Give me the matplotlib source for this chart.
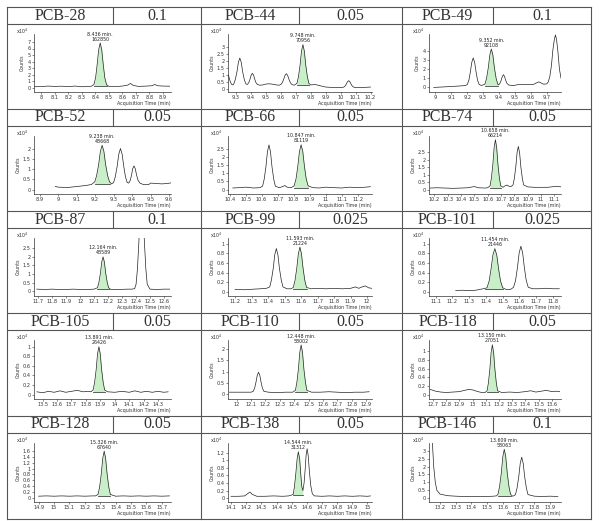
import numpy as np
import matplotlib.pyplot as plt
from matplotlib.lines import Line2D
from matplotlib.ticker import MultipleLocator, FuncFormatter

# header cells
names = ['PCB-28', 'PCB-44', 'PCB-49', 'PCB-52', 'PCB-66', 'PCB-74', 'PCB-87', 'PCB-99',
         'PCB-101', 'PCB-105', 'PCB-110', 'PCB-118', 'PCB-128', 'PCB-138', 'PCB-146']
concs = ['0.1', '0.05', '0.1', '0.05', '0.05', '0.05', '0.1', '0.025',
         '0.025', '0.05', '0.05', '0.05', '0.05', '0.05', '0.1']

# peak labels (retention time / area)
rt_labels = ['8.436 min.', '9.748 min.', '9.352 min.', '9.238 min.', '10.847 min.', '10.658 min.',
             '12.164 min.', '11.593 min.', '11.454 min.', '13.891 min.', '12.448 min.', '13.150 min.',
             '15.326 min.', '14.544 min.', '13.609 min.']
areas = ['162850', '70956', '92108', '48668', '81119', '66214', '48589', '21224',
         '21446', '26426', '58002', '27051', '67640', '31312', '58063']

# chromatogram traces, time (min) / counts (x10^4)
t28 = [7.95, 8.00, 8.05, 8.10, 8.15, 8.20, 8.25, 8.30, 8.35, 8.37, 8.389, 8.402, 8.413, 8.4245, 8.436,
       8.4475, 8.459, 8.470, 8.483, 8.50, 8.55, 8.60, 8.64, 8.66, 8.68, 8.72, 8.78, 8.82, 8.84, 8.86, 8.90, 8.95]
c28 = [0.20, 0.22, 0.30, 0.25, 0.28, 0.22, 0.30, 0.20, 0.22, 0.28, 0.51, 1.57, 3.48, 5.79, 6.85,
       5.79, 3.48, 1.57, 0.51, 0.25, 0.22, 0.30, 0.45, 0.70, 0.40, 0.25, 0.30, 0.35, 0.55, 0.35, 0.30, 0.28]

t44 = [9.25, 9.26, 9.27, 9.28, 9.286, 9.296, 9.307, 9.3165, 9.326, 9.3355, 9.345, 9.356, 9.366,
       9.376, 9.386, 9.394, 9.402, 9.41, 9.418, 9.426, 9.434, 9.444, 9.46, 9.48, 9.50, 9.52, 9.54,
       9.57, 9.59, 9.600, 9.610, 9.619, 9.628, 9.637, 9.646, 9.655, 9.664, 9.674, 9.69, 9.708, 9.718,
       9.729, 9.7385, 9.748, 9.7575, 9.767, 9.778, 9.788, 9.80, 9.83, 9.86, 9.90, 9.95, 10.0, 10.02,
       10.03, 10.038, 10.046, 10.054, 10.062, 10.07, 10.078, 10.088, 10.10, 10.15, 10.20]
c44 = [1.00, 0.60, 0.35, 0.30, 0.38, 0.68, 1.23, 1.90, 2.20, 1.90, 1.23, 0.68, 0.38,
       0.33, 0.46, 0.70, 0.99, 1.12, 0.99, 0.70, 0.46, 0.33, 0.28, 0.30, 0.36, 0.38, 0.36,
       0.30, 0.28, 0.33, 0.46, 0.69, 0.97, 1.10, 0.97, 0.69, 0.46, 0.33, 0.28, 0.41, 0.87,
       1.70, 2.69, 3.15, 2.69, 1.70, 0.87, 0.41, 0.30, 0.33, 0.25, 0.15, 0.12, 0.12, 0.14,
       0.22, 0.36, 0.52, 0.60, 0.52, 0.36, 0.22, 0.14, 0.12, 0.12, 0.15]

t49 = [8.99, 9.05, 9.10, 9.15, 9.19, 9.201, 9.211, 9.220, 9.229, 9.238, 9.247, 9.256, 9.265, 9.275,
       9.29, 9.312, 9.322, 9.333, 9.3425, 9.352, 9.3615, 9.371, 9.382, 9.392, 9.398, 9.406, 9.414,
       9.421, 9.428, 9.435, 9.442, 9.450, 9.462, 9.49, 9.52, 9.55, 9.58, 9.61, 9.62, 9.635, 9.65,
       9.665, 9.68, 9.70, 9.71, 9.72, 9.73, 9.7385, 9.748, 9.755, 9.762, 9.77, 9.78, 9.79]
c49 = [0.00, 0.05, 0.10, 0.15, 0.20, 0.32, 0.80, 1.67, 2.72, 3.20, 2.72, 1.67, 0.80, 0.32,
       0.20, 0.36, 0.99, 2.15, 3.53, 4.17, 3.53, 2.15, 0.99, 0.36, 0.28, 0.44, 0.78,
       1.19, 1.38, 1.19, 0.78, 0.44, 0.25, 0.20, 0.30, 0.32, 0.30, 0.30, 0.35, 0.48, 0.60,
       0.48, 0.35, 0.38, 0.60, 1.20, 2.40, 4.00, 5.20, 5.70, 5.20, 4.00, 2.00, 1.00]

t52 = [8.985, 9.00, 9.05, 9.10, 9.15, 9.18, 9.198, 9.208, 9.219, 9.2285, 9.238, 9.2475, 9.257, 9.268,
       9.278, 9.289, 9.300, 9.309, 9.319, 9.328, 9.337, 9.346, 9.355, 9.364, 9.373, 9.382, 9.390,
       9.397, 9.403, 9.410, 9.417, 9.424, 9.432, 9.442, 9.46, 9.49, 9.50, 9.53, 9.56, 9.59, 9.61]
c52 = [0.15, 0.12, 0.10, 0.15, 0.20, 0.25, 0.38, 0.68, 1.23, 1.89, 2.19, 1.89, 1.23, 0.68,
       0.38, 0.28, 0.35, 0.63, 1.14, 1.75, 2.03, 1.75, 1.14, 0.63, 0.35, 0.32, 0.46,
       0.72, 1.03, 1.17, 1.03, 0.72, 0.46, 0.32, 0.25, 0.25, 0.32, 0.30, 0.28, 0.30, 0.33]

t66 = [10.42, 10.46, 10.50, 10.55, 10.59, 10.606, 10.616, 10.627, 10.6365, 10.646, 10.6555, 10.665,
       10.676, 10.686, 10.71, 10.73, 10.745, 10.76, 10.785, 10.803, 10.815, 10.826, 10.8365, 10.847,
       10.8575, 10.868, 10.879, 10.891, 10.92, 10.96, 11.00, 11.05, 11.10, 11.15, 11.20, 11.25, 11.28]
c66 = [0.10, 0.12, 0.15, 0.10, 0.12, 0.21, 0.63, 1.40, 2.33, 2.75, 2.33, 1.40,
       0.63, 0.21, 0.12, 0.18, 0.25, 0.15, 0.12, 0.23, 0.65, 1.41, 2.34, 2.76,
       2.34, 1.41, 0.65, 0.23, 0.12, 0.10, 0.15, 0.12, 0.10, 0.15, 0.12, 0.15, 0.18]

t74 = [10.17, 10.22, 10.28, 10.34, 10.40, 10.45, 10.50, 10.53, 10.58, 10.60, 10.618, 10.628, 10.639,
       10.6485, 10.658, 10.6675, 10.677, 10.688, 10.698, 10.715, 10.73, 10.745, 10.76, 10.775, 10.79,
       10.80, 10.811, 10.8205, 10.83, 10.8395, 10.849, 10.86, 10.87, 10.90, 10.95, 11.00, 11.05,
       11.10, 11.12, 11.15]
c74 = [0.10, 0.12, 0.10, 0.08, 0.10, 0.12, 0.20, 0.12, 0.10, 0.12, 0.25, 0.77, 1.70,
       2.83, 3.35, 2.83, 1.70, 0.77, 0.25, 0.15, 0.25, 0.30, 0.22, 0.20, 0.31,
       0.74, 1.52, 2.47, 2.90, 2.47, 1.52, 0.74, 0.31, 0.18, 0.15, 0.15, 0.15,
       0.20, 0.22, 0.18]

t87 = [11.69, 11.75, 11.80, 11.85, 11.90, 11.95, 12.00, 12.05, 12.10, 12.124, 12.134, 12.145, 12.1545,
       12.164, 12.1735, 12.183, 12.194, 12.204, 12.22, 12.28, 12.34, 12.37, 12.39, 12.40, 12.41,
       12.421, 12.4305, 12.44, 12.4495, 12.459, 12.47, 12.48, 12.50, 12.55, 12.60, 12.64]
c87 = [0.12, 0.10, 0.12, 0.10, 0.10, 0.12, 0.10, 0.10, 0.12, 0.20, 0.50, 1.04, 1.70,
       2.00, 1.70, 1.04, 0.50, 0.20, 0.10, 0.10, 0.12, 0.12, 0.15, 0.40, 1.30,
       3.00, 5.10, 6.00, 5.10, 3.00, 1.30, 0.40, 0.12, 0.10, 0.12, 0.12]

t99 = [11.20, 11.25, 11.30, 11.35, 11.39, 11.41, 11.42, 11.431, 11.4405, 11.45, 11.4595, 11.469,
       11.48, 11.49, 11.515, 11.54, 11.553, 11.563, 11.574, 11.5835, 11.593, 11.6025, 11.612, 11.623,
       11.633, 11.66, 11.70, 11.75, 11.80, 11.85, 11.90, 11.93, 11.95, 11.97, 11.99, 12.01, 12.03]
c99 = [0.05, 0.04, 0.05, 0.06, 0.07, 0.10, 0.24, 0.48, 0.77, 0.90, 0.77, 0.48,
       0.24, 0.10, 0.06, 0.06, 0.09, 0.23, 0.49, 0.79, 0.93, 0.79, 0.49, 0.23,
       0.09, 0.06, 0.07, 0.06, 0.07, 0.06, 0.07, 0.10, 0.07, 0.10, 0.12, 0.08, 0.07]

t101 = [11.22, 11.26, 11.30, 11.34, 11.37, 11.385, 11.397, 11.407, 11.42, 11.431, 11.4425, 11.454,
        11.4655, 11.477, 11.488, 11.501, 11.525, 11.55, 11.566, 11.578, 11.589, 11.5995, 11.61,
        11.6205, 11.631, 11.642, 11.654, 11.68, 11.72, 11.76, 11.80, 11.84]
c101 = [0.03, 0.04, 0.03, 0.04, 0.06, 0.07, 0.08, 0.09, 0.23, 0.47, 0.77, 0.90,
        0.77, 0.47, 0.23, 0.09, 0.05, 0.06, 0.10, 0.24, 0.50, 0.81, 0.95,
        0.81, 0.50, 0.24, 0.10, 0.07, 0.07, 0.08, 0.07, 0.07]

t105 = [13.46, 13.50, 13.54, 13.58, 13.62, 13.66, 13.70, 13.74, 13.78, 13.82, 13.835, 13.85, 13.86,
        13.871, 13.8805, 13.89, 13.8995, 13.909, 13.92, 13.93, 13.95, 14.00, 14.05, 14.10, 14.14,
        14.18, 14.22, 14.26, 14.30, 14.34, 14.37]
c105 = [0.06, 0.04, 0.07, 0.05, 0.08, 0.05, 0.07, 0.09, 0.06, 0.07, 0.06, 0.10, 0.25,
        0.52, 0.85, 1.00, 0.85, 0.52, 0.25, 0.10, 0.06, 0.05, 0.07, 0.05, 0.08,
        0.05, 0.07, 0.05, 0.07, 0.05, 0.06]

t110 = [11.95, 12.00, 12.05, 12.10, 12.115, 12.125, 12.134, 12.143, 12.152, 12.161, 12.17, 12.179,
        12.189, 12.22, 12.28, 12.34, 12.39, 12.408, 12.418, 12.429, 12.4385, 12.448, 12.4575, 12.467,
        12.478, 12.488, 12.52, 12.58, 12.64, 12.70, 12.76, 12.82, 12.88, 12.92]
c110 = [0.10, 0.10, 0.10, 0.10, 0.14, 0.28, 0.53, 0.84, 0.98, 0.84, 0.53, 0.28,
        0.14, 0.10, 0.08, 0.10, 0.10, 0.18, 0.52, 1.12, 1.85, 2.18, 1.85, 1.12,
        0.52, 0.18, 0.10, 0.10, 0.12, 0.10, 0.08, 0.10, 0.10, 0.12]

t118 = [12.68, 12.72, 12.76, 12.80, 12.85, 12.90, 12.94, 12.97, 13.00, 13.04, 13.07, 13.095, 13.11,
        13.12, 13.131, 13.1405, 13.15, 13.1595, 13.169, 13.18, 13.19, 13.22, 13.28, 13.34, 13.40,
        13.44, 13.48, 13.52, 13.56, 13.60, 13.63, 13.66]
c118 = [0.12, 0.08, 0.06, 0.05, 0.06, 0.07, 0.10, 0.12, 0.11, 0.07, 0.05, 0.05, 0.09,
        0.27, 0.59, 0.97, 1.15, 0.97, 0.59, 0.27, 0.09, 0.05, 0.06, 0.05, 0.07,
        0.09, 0.06, 0.08, 0.10, 0.07, 0.08, 0.07]

t128 = [14.90, 14.95, 15.00, 15.05, 15.10, 15.15, 15.20, 15.25, 15.27, 15.286, 15.296, 15.307, 15.3165,
        15.326, 15.3355, 15.345, 15.356, 15.366, 15.40, 15.45, 15.50, 15.55, 15.60, 15.65, 15.70, 15.75]
c128 = [0.05, 0.06, 0.05, 0.06, 0.05, 0.06, 0.05, 0.06, 0.06, 0.11, 0.36, 0.81, 1.35,
        1.60, 1.35, 0.81, 0.36, 0.11, 0.05, 0.06, 0.05, 0.06, 0.05, 0.06, 0.05, 0.06]

t138 = [14.10, 14.15, 14.19, 14.21, 14.225, 14.24, 14.27, 14.32, 14.38, 14.44, 14.48, 14.497, 14.510,
        14.518, 14.527, 14.536, 14.544, 14.553, 14.560, 14.567, 14.574, 14.582, 14.589, 14.595,
        14.602, 14.609, 14.617, 14.626, 14.636, 14.65, 14.70, 14.75, 14.80, 14.85, 14.90, 14.95,
        15.00, 15.02]
c138 = [0.05, 0.05, 0.06, 0.12, 0.16, 0.10, 0.05, 0.05, 0.06, 0.05, 0.06, 0.08, 0.10,
        0.29, 0.63, 1.03, 1.22, 1.03, 0.63, 0.30, 0.20, 0.40, 0.75, 1.12,
        1.30, 1.12, 0.70, 0.33, 0.12, 0.06, 0.05, 0.06, 0.05, 0.06, 0.05, 0.06,
        0.05, 0.06]

t146 = [13.15, 13.16, 13.17, 13.18, 13.20, 13.25, 13.30, 13.35, 13.40, 13.45, 13.50, 13.54, 13.56,
        13.569, 13.579, 13.59, 13.5995, 13.609, 13.6185, 13.628, 13.639, 13.649, 13.662, 13.671,
        13.68, 13.69, 13.701, 13.7105, 13.72, 13.7295, 13.739, 13.75, 13.76, 13.80, 13.85,
        13.90, 13.95]
c146 = [3.80, 2.00, 1.00, 0.50, 0.25, 0.15, 0.12, 0.10, 0.10, 0.10, 0.10, 0.12, 0.14,
        0.24, 0.72, 1.58, 2.62, 3.10, 2.62, 1.58, 0.72, 0.24, 0.12, 0.15,
        0.22, 0.62, 1.34, 2.20, 2.60, 2.20, 1.34, 0.62, 0.22, 0.12, 0.10,
        0.12, 0.10]

traces = [(t28, c28), (t44, c44), (t49, c49), (t52, c52), (t66, c66), (t74, c74),
          (t87, c87), (t99, c99), (t101, c101), (t105, c105), (t110, c110), (t118, c118),
          (t128, c128), (t138, c138), (t146, c146)]

# integrated (green) peak: start, end, baseline
green = [(8.389, 8.483, 0.25), (9.708, 9.788, 0.30), (9.312, 9.392, 0.20), (9.198, 9.278, 0.28),
         (10.803, 10.891, 0.12), (10.618, 10.698, 0.12), (12.124, 12.204, 0.12), (11.553, 11.633, 0.06),
         (11.397, 11.501, 0.06), (13.85, 13.93, 0.06), (12.408, 12.488, 0.10), (13.11, 13.19, 0.05),
         (15.286, 15.366, 0.05), (14.510, 14.574, 0.08), (13.569, 13.649, 0.12)]

xlims = [(7.946, 8.96), (9.247, 10.21), (8.96, 9.79), (8.87, 9.61), (10.39, 11.29), (10.16, 11.15),
         (11.67, 12.65), (11.157, 12.03), (11.06, 11.85), (13.44, 14.39), (11.94, 12.94), (12.67, 13.67),
         (14.87, 15.76), (14.08, 15.03), (13.13, 13.97)]
ylims = [(-0.6, 8.2), (-0.2, 3.9), (-0.5, 5.8), (-0.22, 2.65), (-0.27, 3.3), (-0.3, 3.6),
         (-0.28, 3.1), (-0.09, 1.12), (-0.08, 1.12), (-0.09, 1.14), (-0.2, 2.4), (-0.1, 1.26),
         (-0.15, 1.88), (-0.1, 1.45), (-0.25, 3.5)]
ytop = [7, 3, 4, 2, 2.5, 2.5, 2.5, 1, 1, 1, 2, 1, 1.6, 1.2, 3]
ystep = [1, 0.5, 1, 0.5, 0.5, 0.5, 0.5, 0.2, 0.2, 0.2, 0.5, 0.2, 0.2, 0.2, 0.5]

W, H = 603, 521
fig = plt.figure(figsize=(W / 100, H / 100), dpi=100)


def fx(p):
    return p / W


def fy(p):
    return 1 - p / H


# table grid
col_x = [7, 201, 402, 591]
split_x = [113, 299, 493]
row_y = [7, 109, 211, 313, 416, 519]
head_h = 17
lk = dict(color='#555555', lw=0.8)

for x in col_x:
    fig.add_artist(Line2D([fx(x)] * 2, [fy(row_y[0]), fy(row_y[-1])], **lk))
for y in row_y:
    fig.add_artist(Line2D([fx(col_x[0]), fx(col_x[-1])], [fy(y)] * 2, **lk))
for r in range(5):
    y0 = row_y[r]
    fig.add_artist(Line2D([fx(col_x[0]), fx(col_x[-1])], [fy(y0 + head_h)] * 2, **lk))
    for c in range(3):
        fig.add_artist(Line2D([fx(split_x[c])] * 2, [fy(y0), fy(y0 + head_h)], **lk))

fmt = FuncFormatter(lambda v, p: f'{round(v, 3):g}')

for i in range(15):
    r, c = divmod(i, 3)
    y0 = row_y[r]
    yc = fy(y0 + head_h / 2)
    fig.text(fx((col_x[c] + split_x[c]) / 2), yc, names[i], ha='center', va='center',
             fontsize=11.5, family='Liberation Serif', color='#333333')
    fig.text(fx((split_x[c] + col_x[c + 1]) / 2), yc, concs[i], ha='center', va='center',
             fontsize=11.5, family='Liberation Serif', color='#333333')

    left = col_x[c] + 27
    right = col_x[c + 1] - 30
    top = y0 + head_h + 10
    bottom = row_y[r + 1] - 17
    ax = fig.add_axes([fx(left), fy(bottom), (right - left) / W, (bottom - top) / H])

    t = np.array(traces[i][0])
    y = np.array(traces[i][1])
    g0, g1, base = green[i]
    m = (t >= g0 - 1e-9) & (t <= g1 + 1e-9)
    ax.fill_between(t[m], y[m], base, color='#c8efc8', lw=0)
    ax.plot([g0, g1], [base, base], color='#444444', lw=0.6)
    ax.plot(t, y, color='#222222', lw=0.5)

    k = np.argmax(np.where(m, y, -1))
    ax.annotate(rt_labels[i] + '\n' + areas[i], xy=(t[k], y[k]), xytext=(0, 1),
                textcoords='offset points', ha='center', va='bottom', fontsize=3.4,
                linespacing=1.0, color='#222222')

    ax.set_xlim(*xlims[i])
    ax.set_ylim(*ylims[i])
    ax.xaxis.set_major_locator(MultipleLocator(0.1))
    ax.xaxis.set_major_formatter(fmt)
    ax.set_yticks(np.arange(0, ytop[i] + ystep[i] / 2, ystep[i]))
    ax.yaxis.set_major_formatter(fmt)
    ax.tick_params(axis='both', length=1.5, width=0.4, pad=1, labelsize=3.6,
                   colors='#333333', direction='out')
    for s in ['top', 'right']:
        ax.spines[s].set_visible(False)
    for s in ['left', 'bottom']:
        ax.spines[s].set_linewidth(0.5)
        ax.spines[s].set_color('#333333')
    ax.set_facecolor('none')

    ax.set_ylabel('Counts', fontsize=3.4, labelpad=1.5, color='#333333')
    ax.text(-0.035, 1.04, r'x10$^{4}$', transform=ax.transAxes, ha='right', va='center',
            fontsize=3.4, color='#333333')
    ax.annotate('Acquisition Time (min)', xy=(1, 0), xycoords='axes fraction',
                xytext=(0, -6.5), textcoords='offset points', ha='right', va='top',
                fontsize=3.4, color='#333333')

fig.savefig('out.png', dpi=100)
